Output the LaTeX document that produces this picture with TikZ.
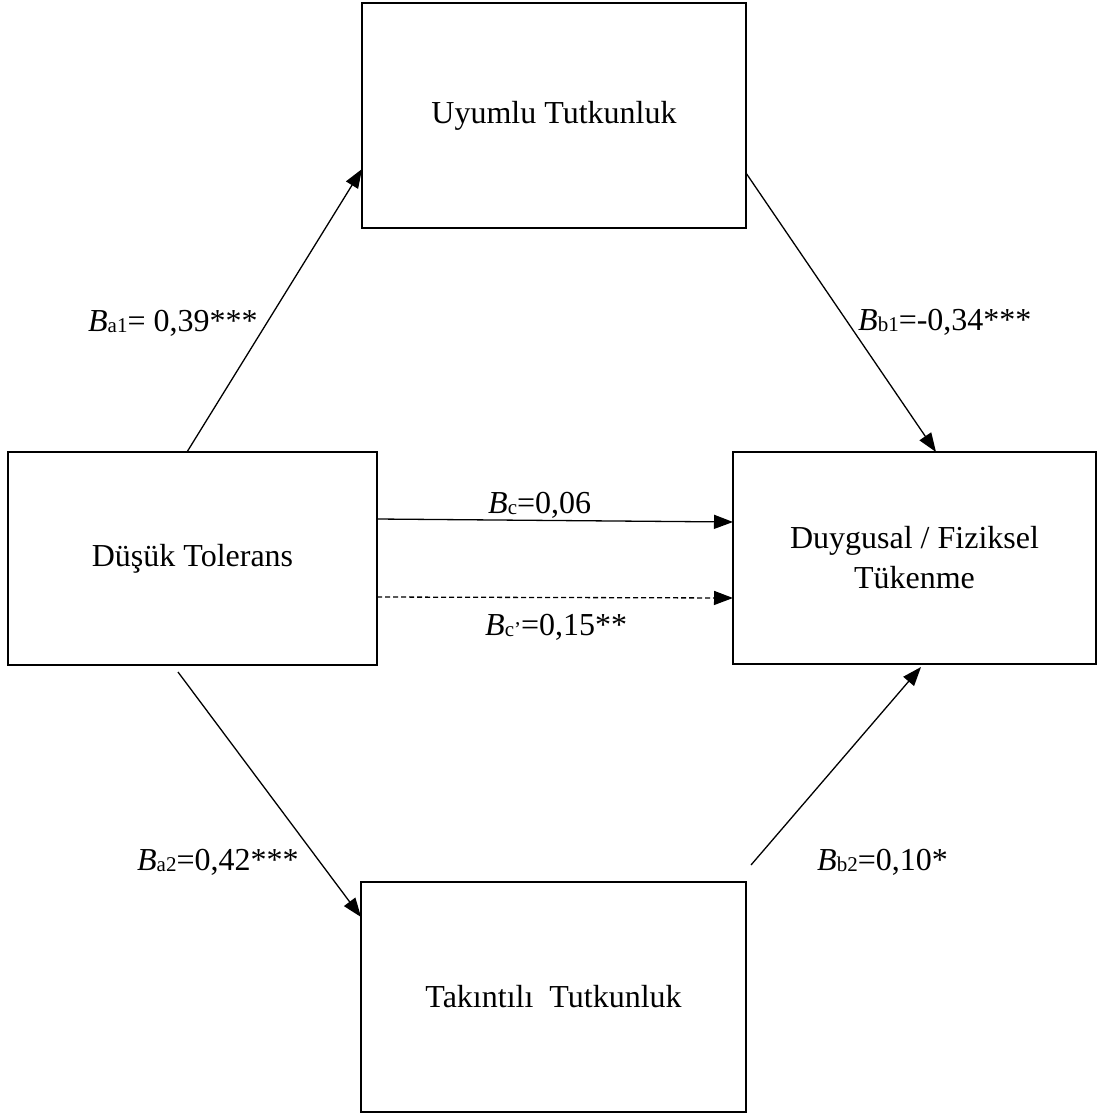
\documentclass[tikz,border=0pt]{standalone}
\usepackage{fontspec}
\setmainfont{Liberation Serif}
\usetikzlibrary{arrows.meta,calc}
\newcommand{\sbs}[1]{\raisebox{-1.5pt}{\fontsize{21}{21}\selectfont #1}}
\begin{document}
\begin{tikzpicture}[x=1pt,y=-1pt,
  box/.style={draw, line width=2.8pt, inner sep=0pt, outer sep=0pt, align=center,
    font=\fontsize{32}{40}\selectfont},
  conn/.style={line width=1.3pt, -{Triangle[length=19pt,width=14pt]}},
  dconn/.style={conn, dash pattern=on 5pt off 3pt},
  lbl/.style={anchor=base west, inner sep=0pt, font=\fontsize{32}{40}\selectfont}]
\useasboundingbox (0,0) rectangle (1105,1116);

\node[box, minimum width=384pt, minimum height=225pt] (T) at (554,115.5) {Uyumlu Tutkunluk};
\node[box, minimum width=369pt, minimum height=213pt] (L) at (192.5,558.5) {Düşük Tolerans};
\node[box, minimum width=363pt, minimum height=212pt] (R) at (914.5,558) {Duygusal / Fiziksel\\Tükenme};
\node[box, minimum width=385pt, minimum height=230pt] (B) at (553.5,997) {Takıntılı\ \ Tutkunluk};

\coordinate (a1s) at ([xshift=179pt]L.north west);
\coordinate (a1e) at ([yshift=-166pt]T.north west);
\coordinate (b1s) at ([yshift=-170pt]T.north east);
\coordinate (b1e) at ([xshift=203pt]R.north west);
\coordinate (cs)  at ([yshift=-67pt]L.north east);
\coordinate (ce)  at ([yshift=-70pt]R.north west);
\coordinate (cps) at ([yshift=-145pt]L.north east);
\coordinate (cpe) at ([yshift=-146pt]R.north west);
\coordinate (a2s) at ([xshift=170pt,yshift=-7pt]L.south west);
\coordinate (a2e) at ([yshift=-35pt]B.north west);
\coordinate (b2s) at ([xshift=5pt,yshift=17pt]B.north east);
\coordinate (b2e) at ([xshift=188pt,yshift=-3pt]R.south west);

\draw[conn] (a1s) -- (a1e);
\draw[conn] (b1s) -- (b1e);
\draw[conn] (cs) -- (ce);
\draw[dconn] (cps) -- (cpe);
\draw[conn] (a2s) -- (a2e);
\draw[conn] (b2s) -- (b2e);

\node[lbl] (la1) at (88,331) {\textit{B}\sbs{a1}= 0,39***};
\node[lbl] (lb1) at (858,330) {\textit{B}\sbs{b1}=-0,34***};
\node[lbl] (lc)  at (488,513) {\textit{B}\sbs{c}=0,06};
\node[lbl] (lcp) at (485,635) {\textit{B}\sbs{c’}=0,15**};
\node[lbl] (la2) at (137,870) {\textit{B}\sbs{a2}=0,42***};
\node[lbl] (lb2) at (817,870) {\textit{B}\sbs{b2}=0,10*};
\end{tikzpicture}
\end{document}
